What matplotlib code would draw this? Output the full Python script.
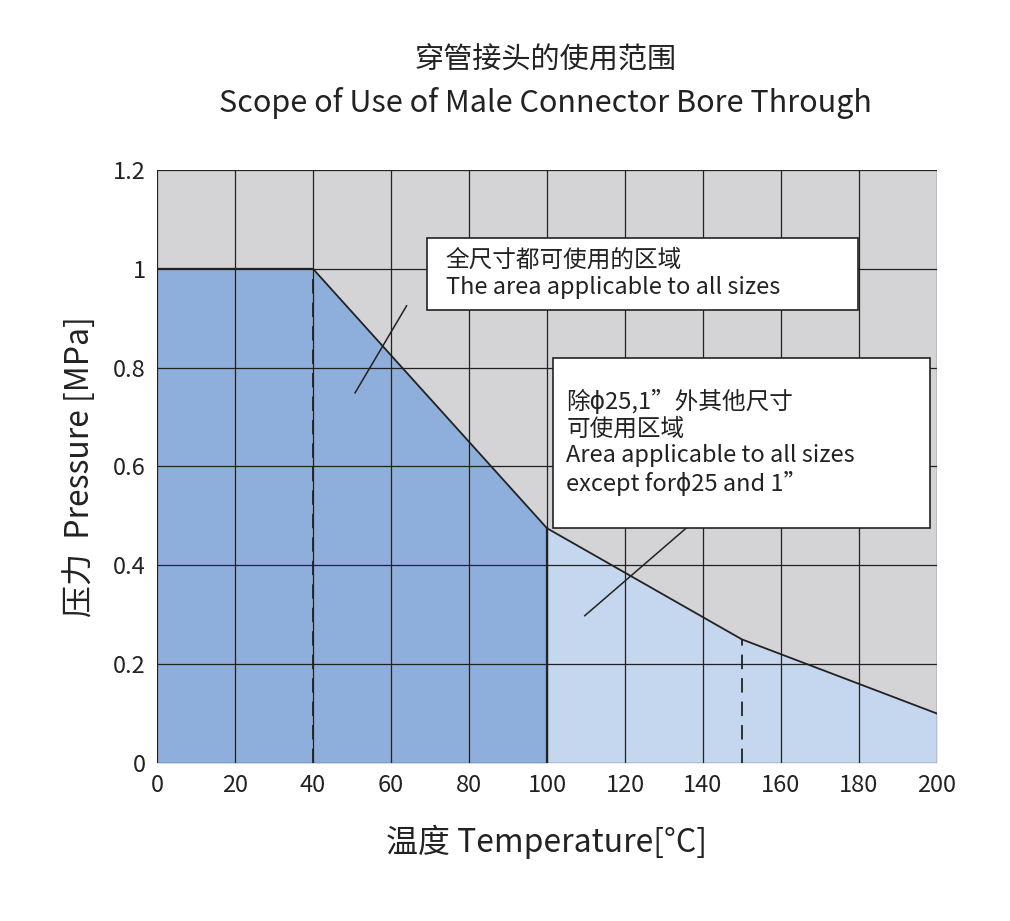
import matplotlib
matplotlib.use("Agg")
import matplotlib.pyplot as plt
from matplotlib.patches import Rectangle

plt.rcParams['font.family'] = ['Noto Sans CJK SC', 'DejaVu Sans']

temps = [0, 40, 100, 150, 200]
pressure = [1.0, 1.0, 0.475, 0.25, 0.1]
xticks = [0, 20, 40, 60, 80, 100, 120, 140, 160, 180, 200]
yticks = [0, 0.2, 0.4, 0.6, 0.8, 1.0, 1.2]
ytick_labels = ['0', '0.2', '0.4', '0.6', '0.8', '1', '1.2']
label1 = "全尺寸都可使用的区域\nThe area applicable to all sizes"
label2 = "除ϕ25,1”外其他尺寸\n可使用区域\nArea applicable to all sizes\nexcept forϕ25 and 1”"

fig = plt.figure(figsize=(10.1, 9.21), dpi=100)
ax = fig.add_axes([0.1554, 0.1716, 0.7723, 0.6439])
ax.set_facecolor('#d4d4d6')
ax.set_xlim(0, 200); ax.set_ylim(0, 1.2)

ax.fill_between(temps[:3], pressure[:3], 0, color='#8eafdc', zorder=1, lw=0)
ax.fill_between(temps[2:], pressure[2:], 0, color='#c5d7ee', zorder=1, lw=0)
ax.set_xticks(xticks); ax.set_yticks(yticks)
ax.set_yticklabels(ytick_labels)
ax.grid(True, color='#222222', lw=0.9, zorder=2)
ax.set_axisbelow(False)
ax.plot(temps, pressure, color='#222222', lw=1.3, zorder=3)
ax.plot([40, 40], [0, 1.0], color='#222222', lw=1.3, ls=(0, (8, 5)), zorder=3)
ax.plot([150, 150], [0, 0.25], color='#222222', lw=1.3, ls=(0, (8, 5)), zorder=3)
ax.plot([100, 100], [0, 0.475], color='#222222', lw=1.6, zorder=3)
for s in ax.spines.values():
    s.set_visible(False)
ax.tick_params(length=0, labelsize=17, pad=8, colors='#222222')

# annotations
ax.plot([50.8, 64], [0.749, 0.925], color='#222222', lw=1.1, zorder=4)
ax.plot([109.7, 136.7], [0.298, 0.482], color='#222222', lw=1.1, zorder=4)
ax.add_patch(Rectangle((69.2, 0.917), 110.5, 0.146, facecolor='white', edgecolor='#222222', lw=1.2, zorder=5))
ax.text(74, 0.99, label1, fontsize=17, va='center', ha='left', zorder=6, linespacing=1.2, color='#222222')
ax.add_patch(Rectangle((101.5, 0.476), 96.7, 0.344, facecolor='white', edgecolor='#222222', lw=1.2, zorder=5))
ax.text(105, 0.648, label2, fontsize=17, va='center', ha='left', zorder=6, linespacing=1.2, color='#222222')

ax.set_xlabel("温度 Temperature[°C]", fontsize=23, labelpad=20, color='#222222')
ax.set_ylabel("压力  Pressure [MPa]", fontsize=23, labelpad=12, color='#222222')
fig.text(0.54, 0.935, "穿管接头的使用范围", ha='center', va='center', fontsize=21, fontweight='medium', color='#222222')
fig.text(0.54, 0.888, "Scope of Use of Male Connector Bore Through", ha='center', va='center', fontsize=22, fontweight='medium', color='#222222')

fig.savefig("out.png", dpi=100)
